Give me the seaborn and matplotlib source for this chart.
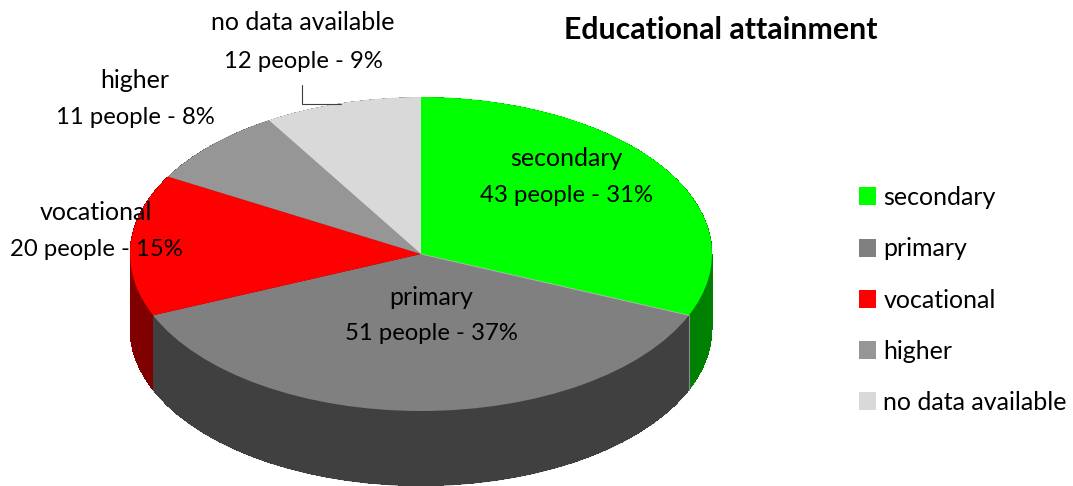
import matplotlib
matplotlib.use("Agg")
import matplotlib.pyplot as plt
from matplotlib.patches import Patch
import numpy as np
import seaborn as sns

categories = ["secondary", "primary", "vocational", "higher", "no data available"]
people = [43, 51, 20, 11, 12]
percent = [31, 37, 15, 8, 9]
top_colors = ["#00FF00", "#808080", "#FF0000", "#969696", "#D9D9D9"]
side_colors = ["#008000", "#404040", "#800000", "#4B4B4B", "#6D6D6D"]
title = "Educational attainment"

sns.set_theme(style="white")
plt.rcParams["font.family"] = ["Lato", "DejaVu Sans"]
W, H = 1073, 486
fig = plt.figure(figsize=(W / 100, H / 100), dpi=100, facecolor="white")
ax = fig.add_axes([130 / W, (H - 411) / H, 582 / W, 314 / H])

# extruded wall: stacked copies of the pie, shifted down
depth = 0.478
layers = 150
for i in range(layers, 0, -1):
    ax.pie(people, startangle=90, counterclock=False, colors=side_colors,
           center=(0, -depth * i / layers), radius=1, normalize=True,
           wedgeprops=dict(linewidth=0, clip_on=False, antialiased=i == layers))
ax.pie(people, startangle=90, counterclock=False, colors=top_colors,
       center=(0, 0), radius=1, normalize=True,
       wedgeprops=dict(linewidth=0, clip_on=False))
ax.set_aspect("auto")
ax.set_xlim(-1, 1)
ax.set_ylim(-1, 1)
ax.axis("off")

# faint seam between the first two slices
theta = np.deg2rad(90 - 360 * people[0] / sum(people))
cx, cy = np.cos(theta), np.sin(theta)
ax.plot([0, cx], [0, cy], color="#B0C8B0", lw=0.6, clip_on=False)
ax.plot([cx, cx], [cy, cy - depth], color="#8A8A8A", lw=0.8, clip_on=False)

def px(x, y):
    return x / W, 1 - y / H

fs = 17.2
fs_cat = 18
labels_px = [(566, 158, 195), (431, 297, 334), (96, 213, 250), (135, 80, 117), (303, 23, 61)]
for cat, n, p, (x, y1, y2) in zip(categories, people, percent, labels_px):
    fig.text(*px(x, y1), cat, ha="center", va="center", fontsize=fs_cat, color="black")
    fig.text(*px(x, y2), f"{n} people - {p}%", ha="center", va="center", fontsize=fs, color="black")

fig.add_artist(plt.Line2D([302 / W, 302 / W, 341 / W], [1 - 85 / H, 1 - 104 / H, 1 - 104 / H],
                          color="#404040", lw=0.8))
fig.text(*px(721, 30), title, ha="center", va="center", fontsize=21.8, fontweight="bold", color="black")

handles = [Patch(facecolor=c, edgecolor="none") for c in top_colors]
fig.legend(handles, categories, loc="center left", bbox_to_anchor=(859 / W, 1 - 300 / H), frameon=False,
           fontsize=fs_cat, handlelength=0.68, handleheight=0.73, handletextpad=0.29, labelspacing=1.13,
           borderaxespad=0, borderpad=0, labelcolor="black")
fig.savefig("out.png", dpi=100)
